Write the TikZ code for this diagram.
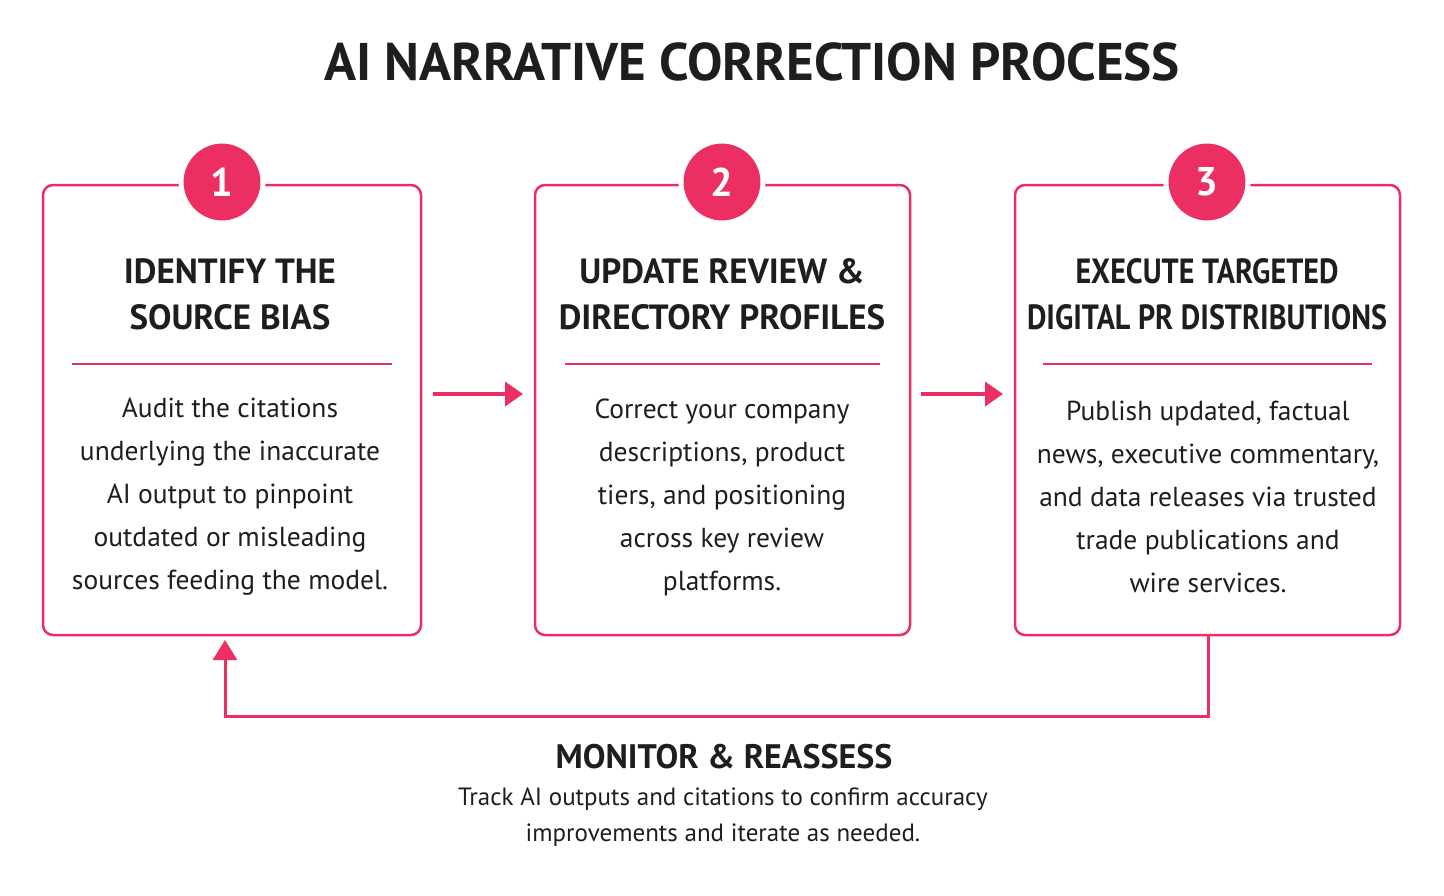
\documentclass[tikz,border=0pt]{standalone}
\usepackage{fontspec}
\setmainfont{PT Sans}
\usetikzlibrary{arrows.meta}
\definecolor{pk}{HTML}{EC2F63}
\definecolor{tx}{HTML}{1E1E1E}
\begin{document}
\begin{tikzpicture}[x=1pt,y=-1pt,
  box/.style={draw=pk,line width=2.5pt,rounded corners=10pt},
  num/.style={circle,fill=pk,draw=white,line width=5pt,minimum size=82pt,text=white,font=\fontsize{40}{40}\selectfont\bfseries},
  head/.style={align=center,text=tx,font=\fontsize{35}{46}\selectfont\bfseries},
  body/.style={align=center,text=tx,font=\fontsize{27.5}{43}\selectfont},
  arr/.style={draw=pk,line width=4pt,-{Triangle[length=18pt,width=24pt]}},
  div/.style={draw=pk,line width=1.5pt}]
\useasboundingbox (0,0) rectangle (1444,895);
\node[text=tx,font=\fontsize{53}{53}\selectfont\bfseries] (title) at (752,62) {AI NARRATIVE CORRECTION PROCESS};
\draw[box] (43,185) rectangle (421,635); \coordinate (b1) at (225,635);
\draw[box] (535,185) rectangle (910,635);
\draw[box] (1015,185) rectangle (1400,635); \coordinate (b3) at (1208,635);
\node[num] (n1) at (222,182) {1};
\node[num] (n2) at (722,182) {2};
\node[num] (n3) at (1207,182) {3};
\node[head] (h1) at (230,294) {IDENTIFY THE\\SOURCE BIAS};
\node[head] (h2) at (722,294) {UPDATE REVIEW \&\\DIRECTORY PROFILES};
\node[head] (h3) at (1207,294) {\scalebox{0.86}[1]{EXECUTE TARGETED}\\\scalebox{0.86}[1]{DIGITAL PR DISTRIBUTIONS}};
\draw[div] (72,364) -- (392,364);
\draw[div] (565,364) -- (880,364);
\draw[div] (1043,364) -- (1372,364);
\node[body] (t1) at (230,497) {Audit the citations\\underlying the inaccurate\\AI output to pinpoint\\outdated or misleading\\sources feeding the model.};
\node[body] (t2) at (722,497) {Correct your company\\descriptions, product\\tiers, and positioning\\across key review\\platforms.};
\node[body] (t3) at (1208,497) {Publish updated, factual\\news, executive commentary,\\and data releases via trusted\\trade publications and\\wire services.};
\coordinate (a1s) at (433,394); \coordinate (a1e) at (523,394);
\coordinate (a2s) at (921,394); \coordinate (a2e) at (1003,394);
\draw[arr] (a1s) -- (a1e);
\draw[arr] (a2s) -- (a2e);
\draw[draw=pk,line width=3pt,-{Triangle[length=20pt,width=24pt]}] (b3) -- (1208,716) -- (225,716) -- (225,640);
\node[text=tx,font=\fontsize{34}{34}\selectfont\bfseries] (m) at (724,757) {MONITOR \& REASSESS};
\node[text=tx,align=center,font=\fontsize{25}{36}\selectfont] (mt) at (723,817) {Track AI outputs and citations to confirm accuracy\\improvements and iterate as needed.};
\end{tikzpicture}
\end{document}
